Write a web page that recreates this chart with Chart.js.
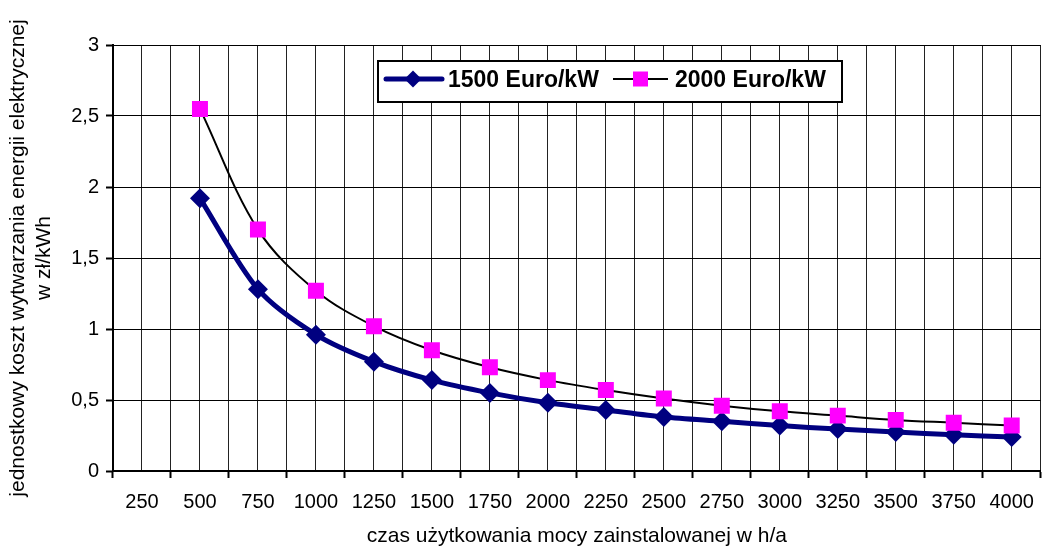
<!DOCTYPE html>
<html><head><meta charset="utf-8">
<script src="https://cdn.jsdelivr.net/npm/chart.js@4.4.0/dist/chart.umd.min.js"></script>
<style>
html,body{margin:0;padding:0;overflow:hidden;background:#fff;width:1042px;height:546px}
#wrap{position:relative;left:0;top:0;width:1042px;height:546px;overflow:hidden}
#c{position:absolute;left:0;top:0;width:1052px;height:546px}
</style></head>
<body><div id="wrap"><canvas id="c" width="1052" height="546"></canvas></div>
<script>
const categories = ['250','500','750','1000','1250','1500','1750','2000','2250','2500','2750','3000','3250','3500','3750','4000'];
const series1500 = [null,1.92,1.28,0.96,0.77,0.64,0.55,0.48,0.43,0.38,0.35,0.32,0.295,0.275,0.255,0.24];
const series2000 = [null,2.55,1.70,1.27,1.02,0.85,0.73,0.64,0.57,0.51,0.46,0.42,0.39,0.36,0.34,0.32];
const yTicks = [0,0.5,1,1.5,2,2.5,3];
const seriesNames = ['1500 Euro/kW','2000 Euro/kW'];
const xTitle = 'czas użytkowania mocy zainstalowanej w h/a';
const yTitle = ['jednostkowy koszt wytwarzania energii elektrycznej','w zł/kWh'];

const FONT = "'Liberation Sans', Arial, sans-serif";

const boxLegend = {
  id: 'boxLegend',
  afterDraw(chart) {
    const ctx = chart.ctx;
    const ds = chart.data.datasets;
    ctx.save();
    const x0 = 378, y0 = 61, w = 464, h = 41;
    ctx.fillStyle = '#fff';
    ctx.fillRect(x0, y0, w, h);
    ctx.lineWidth = 2;
    ctx.strokeStyle = '#000';
    ctx.strokeRect(x0, y0, w, h);
    const cy = 79;
    ctx.font = "bold 23px " + FONT;
    ctx.textBaseline = 'alphabetic';
    ctx.textAlign = 'left';
    ctx.strokeStyle = ds[0].borderColor; ctx.lineWidth = ds[0].borderWidth; ctx.lineCap = 'round';
    ctx.beginPath(); ctx.moveTo(386, cy); ctx.lineTo(442, cy); ctx.stroke();
    ctx.fillStyle = ds[0].pointBackgroundColor;
    ctx.beginPath(); ctx.moveTo(413, cy - 8.5); ctx.lineTo(421.5, cy); ctx.lineTo(413, cy + 8.5); ctx.lineTo(404.5, cy); ctx.closePath(); ctx.fill();
    ctx.fillStyle = '#000';
    ctx.fillText(ds[0].label, 448, 87);
    ctx.strokeStyle = ds[1].borderColor; ctx.lineWidth = ds[1].borderWidth; ctx.lineCap = 'butt';
    ctx.beginPath(); ctx.moveTo(613, cy); ctx.lineTo(668, cy); ctx.stroke();
    ctx.fillStyle = ds[1].pointBackgroundColor;
    ctx.fillRect(633, cy - 7.5, 15, 15);
    ctx.fillStyle = '#000';
    ctx.fillText(ds[1].label, 675, 87);
    ctx.restore();
  }
};

new Chart(document.getElementById('c'), {
  type: 'line',
  data: {
    labels: categories,
    datasets: [
      {
        label: seriesNames[0], data: series1500,
        borderColor: '#000080', backgroundColor: '#000080', borderWidth: 5,
        pointStyle: 'rectRot', pointRadius: 10, pointBackgroundColor: '#000080', pointBorderColor: '#000080', pointBorderWidth: 0,
        tension: 0.3, order: 1, xAxisID: 'x', yAxisID: 'y'
      },
      {
        label: seriesNames[1], data: series2000,
        borderColor: '#000000', backgroundColor: '#ff00ff', borderWidth: 2,
        pointStyle: 'rect', pointRadius: 11.3, pointBackgroundColor: '#ff00ff', pointBorderColor: '#ff00ff', pointBorderWidth: 0,
        tension: 0.35, order: 0, xAxisID: 'x', yAxisID: 'y'
      }
    ]
  },
  options: {
    responsive: false,
    animation: false,
    events: [],
    layout: { padding: { top: 45, right: 3, left: 0, bottom: 0 } },
    plugins: { legend: { display: false }, tooltip: { enabled: false } },
    scales: {
      x: {
        type: 'category', position: 'bottom', offset: true,
        grid: { offset: true, color: '#222', lineWidth: 1, drawTicks: true, tickLength: 7, tickColor: '#000', tickWidth: 2 },
        border: { display: true, color: '#000', width: 2 },
        ticks: { color: '#000', font: { family: FONT, size: 20 }, padding: 12, maxRotation: 0, autoSkip: false },
        title: { display: true, text: xTitle, color: '#000', font: { family: FONT, size: 21, lineHeight: 0.9 }, padding: { top: 0, bottom: 0 } },
        afterFit: s => { s.height = 75; }
      },
      x2: {
        type: 'category', position: 'top', labels: categories, offset: true,
        grid: { offset: false, color: '#222', lineWidth: 1, drawTicks: false },
        border: { display: false },
        ticks: { display: false },
        afterFit: s => { s.height = 0; }
      },
      y: {
        type: 'linear', position: 'left', min: 0, max: 3,
        afterBuildTicks: s => { s.ticks = yTicks.map(v => ({ value: v })); },
        grid: { color: '#000', lineWidth: 1, drawTicks: true, tickLength: 7, tickColor: '#000', tickWidth: 2 },
        border: { display: true, color: '#000', width: 2 },
        ticks: { color: '#000', font: { family: FONT, size: 20 }, padding: 7, callback: v => String(v).replace('.', ',') },
        title: { display: true, text: yTitle, color: '#000', font: { family: FONT, size: 21, lineHeight: 1.2 }, padding: { top: 6, bottom: 0 } },
        afterFit: s => { s.width = 113; }
      }
    }
  },
  plugins: [boxLegend]
});
</script>
</body></html>
